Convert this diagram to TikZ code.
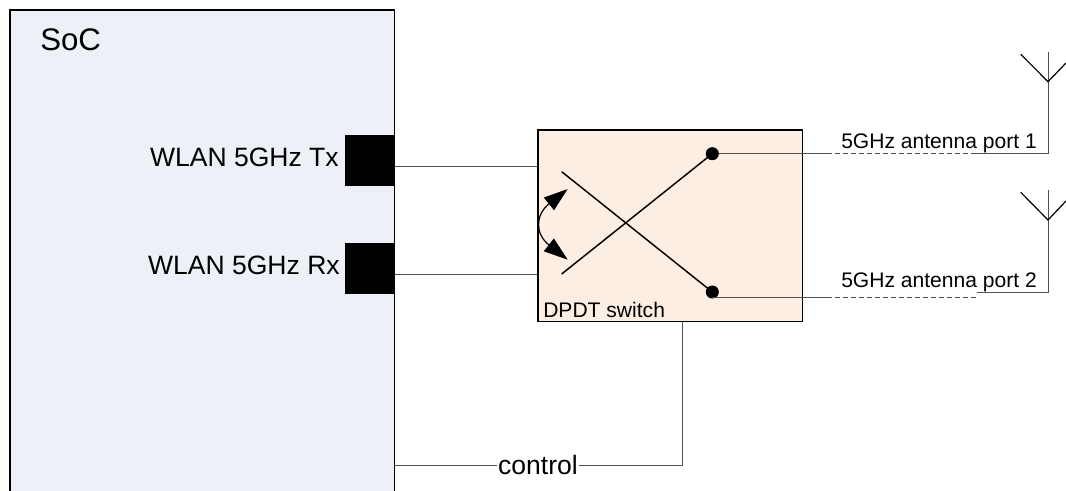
\documentclass[tikz,border=0pt]{standalone}
\usepackage{fontspec}
\setmainfont{Liberation Sans}
\usepackage{xcolor}
\usetikzlibrary{arrows.meta, positioning}
\definecolor{socfill}{HTML}{EDF0F6}
\definecolor{swfill}{HTML}{FDEEE3}
\definecolor{wire}{HTML}{505050}
\tikzset{
  portbox/.style={draw=black,fill=black,inner sep=0pt,minimum width=36.75pt,minimum height=37.5pt},
  swbox/.style={draw=black,line width=1.1pt,fill=swfill,inner sep=0pt,minimum width=198.5pt,minimum height=143.8pt},
  dotnode/.style={circle,fill=black,inner sep=0pt,minimum size=9.8pt},
  wireline/.style={wire,line width=0.6pt},
  dashline/.style={wire,line width=0.6pt,dash pattern=on 4pt off 2pt},
  antline/.style={black,line width=0.9pt},
  arm/.style={black,line width=1.1pt},
  lab/.style={inner sep=0pt,font=\fontsize{19.9}{22}\selectfont},
  smalllab/.style={inner sep=0pt,font=\fontsize{15.8}{18}\selectfont}
}
\begin{document}
\begin{tikzpicture}[x=0.75pt,y=-0.75pt]
\useasboundingbox (0,0) rectangle (1066,491);
\path coordinate (socnw) at (10,10)
      coordinate (socne) at (394.5,10)
      coordinate (socsw) at (10,491)
      coordinate (socse) at (394.5,491);
\fill[socfill] (socnw) rectangle (socse);
\draw[black,line width=1pt] (socsw) -- (socnw) -- (socne) -- (socse);
\node[lab,font=\fontsize{23.4}{26}\selectfont,anchor=base west] (soclabel) at (40,50.5) {SoC};
\node[portbox] (txport) at (370,160) {};
\node[portbox] (rxport) at (370,268) {};
\node[lab,anchor=base east] (txlabel) at (339,167) {WLAN 5GHz Tx};
\node[lab,anchor=base east] (rxlabel) at (340,275) {WLAN 5GHz Rx};
\node[swbox] (switch) at (670.4,225.8) {};
\node[smalllab,anchor=base west] (swlabel) at (543,317) {DPDT switch};
\node[dotnode] (dota) at (712.3,153.7) {};
\node[dotnode] (dotb) at (712.3,292) {};
\path coordinate (txout) at (394.5,166)
      coordinate (rxout) at (394.5,274)
      coordinate (arma) at (561.7,171.7)
      coordinate (armb) at (561.7,274)
      coordinate (tipa) at (567.7,189)
      coordinate (tipb) at (567.7,259.7);
\draw[wireline] (txout) -- (txout -| switch.west);
\draw[wireline] (rxout) -- (rxout -| switch.west);
\draw[arm] (arma) -- (dotb.center);
\draw[arm] (armb) -- (dota.center);
\draw[black,line width=0.9pt,{Triangle[length=18pt,width=12pt]}-{Triangle[length=18pt,width=12pt]}]
  (tipa) .. controls (535,215) and (535,234) .. (tipb);
\path coordinate (dasha) at (826.7,153.7)
      coordinate (enda) at (973,153.7)
      coordinate (anta) at (1048,153.7)
      coordinate (topa) at (1048,52.3)
      coordinate (veea) at (1048,81.7)
      coordinate (lefta) at (1020.7,54.3)
      coordinate (righta) at (1066,63);
\path coordinate (stubb) at (712.3,297.7)
      coordinate (dashb) at (826.7,297.7)
      coordinate (endb) at (976.7,297.7)
      coordinate (jogb) at (976.7,292)
      coordinate (antb) at (1048,292)
      coordinate (topb) at (1048,190)
      coordinate (veeb) at (1048,220)
      coordinate (leftb) at (1020.7,192.3)
      coordinate (rightb) at (1066,201);
\draw[wireline] (dota) -- (dasha);
\draw[dashline] (dasha) -- (enda);
\draw[wireline] (enda) -- (anta) -- (topa);
\draw[antline] (lefta) -- (veea) -- (righta);
\draw[wireline] (stubb) -- (dashb);
\draw[dashline] (dashb) -- (endb);
\draw[wireline] (jogb) -- (antb) -- (topb);
\draw[antline] (leftb) -- (veeb) -- (rightb);
\node[smalllab,anchor=base west] (porta) at (841,149) {5GHz antenna port 1};
\node[smalllab,anchor=base west] (portb) at (841,287) {5GHz antenna port 2};
\path coordinate (ctrlin) at (394.5,465.7)
      coordinate (ctrlup) at (682.3,465.7);
\node[lab,fill=white,inner xsep=0.8pt,inner ysep=0pt,text height=14pt,text depth=0pt] (control) at (538,465.2) {control};
\draw[wireline] (ctrlin) -- (control.west |- ctrlin);
\draw[wireline] (control.east |- ctrlup) -- (ctrlup) -- (ctrlup |- switch.south);
\end{tikzpicture}
\end{document}
